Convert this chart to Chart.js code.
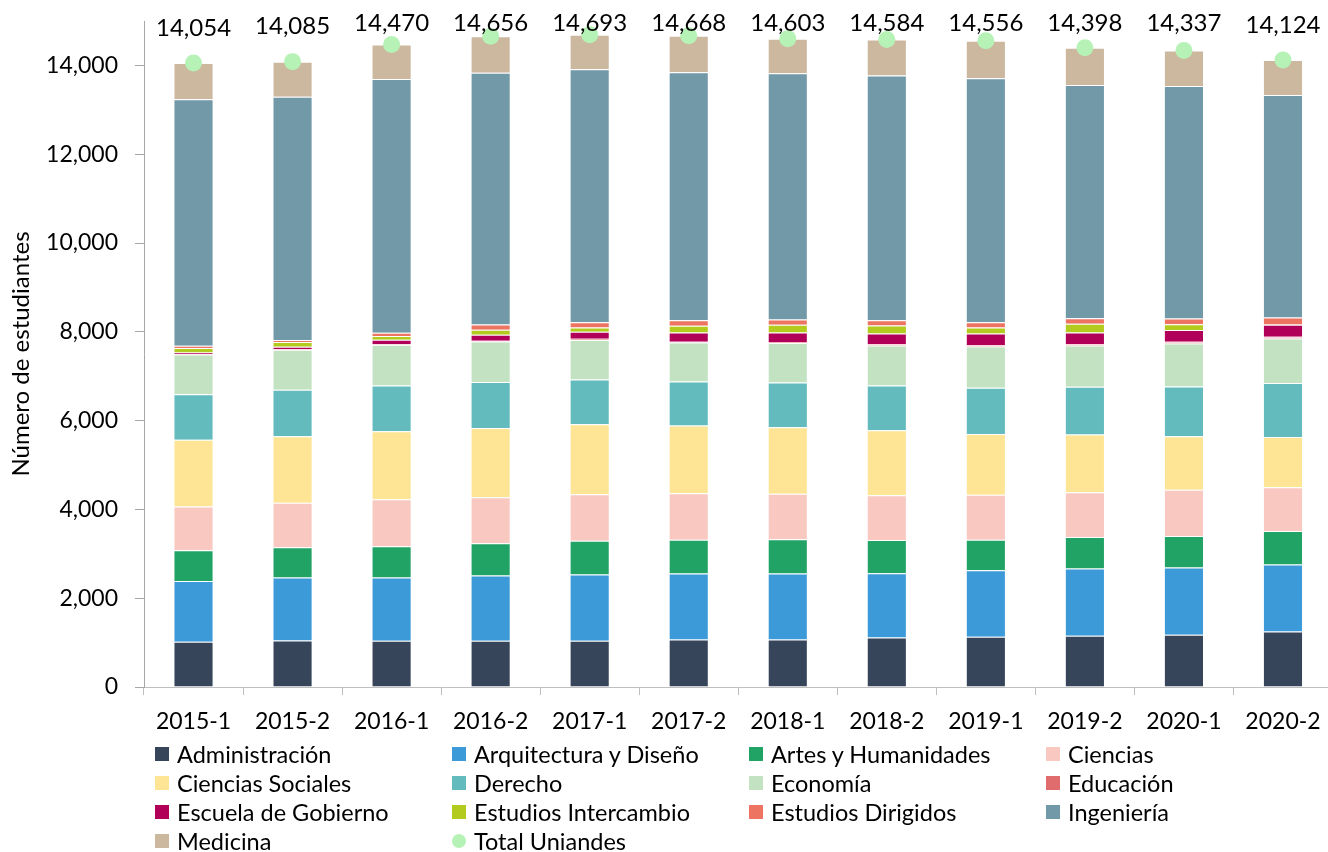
<!DOCTYPE html>
<html>
<head>
<meta charset="utf-8">
<script src="https://cdn.jsdelivr.net/npm/chart.js@4"></script>
<style>
  body { margin: 0; width: 1328px; height: 852px; overflow: hidden; background: #fff; font-family: Lato, sans-serif; }
  #wrap { position: relative; width: 1341px; height: 742px; }
  #legend { position: absolute; left: 155px; top: 740px; display: grid;
            grid-template-columns: repeat(4, 297px); grid-auto-rows: 28.8px; font-size: 23.5px; color: #000; }
  .item { display: flex; align-items: center; white-space: nowrap; }
  .box { width: 14px; height: 14px; margin-right: 8px; flex: none; }
  .dot { border-radius: 50%; }
</style>
</head>
<body>
<div id="wrap"><canvas id="myChart" width="1341" height="742"></canvas></div>
<div id="legend"></div>
<script>
// semesters on the x axis
const semestres = ['2015-1', '2015-2', '2016-1', '2016-2', '2017-1', '2017-2',
                   '2018-1', '2018-2', '2019-1', '2019-2', '2020-1', '2020-2'];

// students per faculty
const administracion = [1018, 1049, 1040, 1040, 1040, 1072, 1072, 1117, 1130, 1153, 1175, 1252];
const arquitectura   = [1371, 1416, 1425, 1470, 1492, 1483, 1483, 1445, 1499, 1514, 1515, 1505];
const artes          = [689, 681, 703, 726, 764, 764, 771, 748, 690, 710, 710, 755];
const ciencias       = [989, 1004, 1063, 1040, 1047, 1047, 1026, 1011, 1011, 1011, 1042, 989];
const cienciasSoc    = [1499, 1497, 1528, 1559, 1573, 1521, 1497, 1461, 1371, 1297, 1205, 1132];
const derecho        = [1025, 1049, 1034, 1034, 1011, 996, 1011, 1011, 1040, 1078, 1123, 1214];
const economia       = [899, 899, 914, 912, 886, 876, 885, 899, 928, 929, 967, 1002];
const educacion      = [10, 10, 16, 16, 29, 16, 23, 31, 31, 31, 38, 38];
const gobierno       = [34, 57, 97, 135, 157, 209, 216, 238, 261, 261, 263, 270];
const intercambio    = [99, 106, 83, 112, 97, 150, 173, 180, 135, 195, 134, 10];
const dirigidos      = [52, 45, 74, 120, 121, 128, 119, 121, 121, 128, 126, 154];
const ingenieria     = [5550, 5482, 5714, 5671, 5699, 5586, 5550, 5512, 5496, 5249, 5236, 5010];
const medicina       = [819, 790, 779, 821, 777, 820, 777, 810, 843, 842, 803, 793];
const total          = [14054, 14085, 14470, 14656, 14693, 14668, 14603, 14584, 14556, 14398, 14337, 14124];

const yTicks = [0, 2000, 4000, 6000, 8000, 10000, 12000, 14000];

const FONT = 'Lato';

const facultades = [
  ['Administración', administracion, '#36455A'],
  ['Arquitectura y Diseño', arquitectura, '#3C9AD9'],
  ['Artes y Humanidades', artes, '#21A366'],
  ['Ciencias', ciencias, '#F9C8C0'],
  ['Ciencias Sociales', cienciasSoc, '#FEE595'],
  ['Derecho', derecho, '#63BBBE'],
  ['Economía', economia, '#C2E2C2'],
  ['Educación', educacion, '#E06C6E'],
  ['Escuela de Gobierno', gobierno, '#B10058'],
  ['Estudios Intercambio', intercambio, '#B2CB1E'],
  ['Estudios Dirigidos', dirigidos, '#EE7462'],
  ['Ingeniería', ingenieria, '#7199A8'],
  ['Medicina', medicina, '#CCB79F']
];

var datasets = facultades.map(f => ({
  label: f[0],
  data: f[1],
  backgroundColor: f[2],
  borderColor: 'rgba(255,255,255,0.35)',
  borderWidth: 1,
  barPercentage: 0.405,
  categoryPercentage: 1
}));

datasets.push({
  type: 'line',
  label: 'Total Uniandes',
  data: total,
  stack: 'total',
  order: -1,
  showLine: false,
  pointRadius: 8.5,
  pointBackgroundColor: '#B6F2B6',
  pointBorderWidth: 0
});

// value labels above the green points
const totalLabels = {
  id: 'totalLabels',
  afterDatasetsDraw(chart) {
    var meta = chart.getDatasetMeta(chart.data.datasets.length - 1);
    var ctx = chart.ctx;
    ctx.save();
    ctx.font = '24px ' + FONT;
    ctx.fillStyle = '#000';
    ctx.textAlign = 'center';
    ctx.textBaseline = 'middle';
    meta.data.forEach((pt, i) => {
      ctx.fillText(total[i].toLocaleString('en-US'), pt.x, Math.max(pt.y - 35, 23));
    });
    ctx.restore();
  }
};

var ctx = document.getElementById('myChart').getContext('2d');
var chart = new Chart(ctx, {
  type: 'bar',
  data: { labels: semestres, datasets: datasets },
  plugins: [totalLabels],
  options: {
    responsive: false,
    animation: false,
    layout: { padding: { top: 21, left: 0, right: 0, bottom: 0 } },
    plugins: { legend: { display: false }, tooltip: { enabled: false } },
    scales: {
      x: {
        stacked: true,
        grid: { drawOnChartArea: false, offset: true, tickLength: 8, color: '#BFBFBF' },
        border: { color: '#BFBFBF' },
        ticks: { color: '#000', padding: 13, maxRotation: 0, font: { family: FONT, size: 23 } },
        afterFit: s => { s.height = 55; }
      },
      y: {
        stacked: true,
        min: 0,
        max: 15000,
        afterBuildTicks: s => { s.ticks = yTicks.map(v => ({ value: v })); },
        grid: { drawOnChartArea: false, tickLength: 9, color: '#A6A6A6' },
        border: { color: '#A6A6A6' },
        ticks: {
          color: '#000', padding: 17, font: { family: FONT, size: 23 },
          callback: v => v.toLocaleString('en-US')
        },
        title: {
          display: true, text: 'Número de estudiantes', color: '#000',
          font: { family: FONT, size: 24 }, padding: { top: 7, bottom: 0 }
        },
        afterFit: s => { s.width = 144; s.paddingTop = 0; s.paddingBottom = 0; }
      }
    }
  }
});

// legend in four columns under the chart
var legend = document.getElementById('legend');
facultades.concat([['Total Uniandes', total, '#B6F2B6']]).forEach((f, i) => {
  var item = document.createElement('div');
  item.className = 'item';
  var box = document.createElement('span');
  box.className = 'box' + (i === 13 ? ' dot' : '');
  box.style.background = f[2];
  item.appendChild(box);
  item.appendChild(document.createTextNode(f[0]));
  legend.appendChild(item);
});
</script>
</body>
</html>
